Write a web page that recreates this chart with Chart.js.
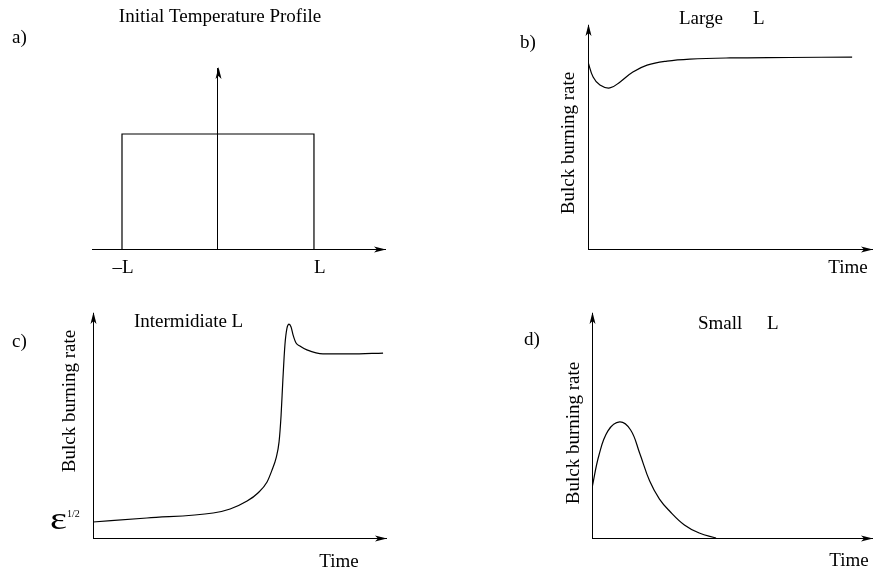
<!DOCTYPE html>
<html><head><meta charset="utf-8">
<script src="https://cdn.jsdelivr.net/npm/chart.js@4"></script>
<style>
html,body{margin:0;padding:0;background:#fff;overflow:hidden}
#wrap{position:relative;width:874px;height:571px;background:#fff}
canvas{position:absolute;left:0;top:0}
</style></head><body><div id="wrap">
<canvas id="ca" width="874" height="571"></canvas>
<canvas id="cb" width="874" height="571"></canvas>
<canvas id="cc" width="874" height="571"></canvas>
<canvas id="cd" width="874" height="571"></canvas>
</div>
<script>
// ---- data ----
const profileX = [-1, -1, 1, 1];
const profileY = [0, 1, 1, 0];
const profileTicks = [-1, 1];
const profileTickLabels = ['\u2013L', 'L'];

const largeTime = [0, 0.18, 0.42, 0.77, 1.13, 1.58, 2.08, 2.78, 3.59, 5.0, 7.11, 9.30];
const largeRate = [8.35, 7.68, 7.32, 7.19, 7.46, 7.90, 8.21, 8.39, 8.48, 8.53, 8.55, 8.57];

const interTime = [0, 1.84, 4.10, 4.68, 5.26, 5.63, 5.94, 6.11, 6.25, 6.35, 6.42, 6.48, 6.55, 6.62, 6.69, 6.76, 6.83, 6.93, 7.06, 7.30, 7.85, 8.77, 9.90];
const interRate = [0.71, 0.89, 1.11, 1.29, 1.64, 2.00, 2.49, 3.02, 3.56, 4.27, 5.47, 7.02, 8.58, 9.33, 9.51, 9.38, 9.02, 8.67, 8.53, 8.36, 8.18, 8.18, 8.22];

const smallTime = [0, 0.25, 0.57, 0.99, 1.38, 1.70, 2.06, 2.41, 2.77, 3.30, 3.83, 4.43];
const smallRate = [2.22, 3.69, 4.76, 5.16, 4.80, 3.78, 2.53, 1.73, 1.20, 0.58, 0.22, 0];

const yLabel = 'Bulck burning rate';
const xLabel = 'Time';

// ---- helpers ----
const FONT = '"Liberation Serif", "Times New Roman", serif';
function pts(xs, ys) { return xs.map((x, i) => ({x: x, y: ys[i]})); }

function arrowUp(ctx, x, y) {
  ctx.beginPath(); ctx.moveTo(x, y); ctx.lineTo(x - 3, y + 12); ctx.lineTo(x, y + 9); ctx.lineTo(x + 3, y + 12); ctx.closePath(); ctx.fill();
}
function arrowRight(ctx, x, y) {
  ctx.beginPath(); ctx.moveTo(x, y); ctx.lineTo(x - 12, y - 3); ctx.lineTo(x - 9, y); ctx.lineTo(x - 12, y + 3); ctx.closePath(); ctx.fill();
}
function text(ctx, s, x, y, size, align, rot, sx) {
  ctx.save();
  ctx.font = size + 'px ' + FONT;
  ctx.fillStyle = '#000';
  ctx.textAlign = align || 'center';
  ctx.textBaseline = 'middle';
  ctx.translate(x, y);
  if (rot) ctx.rotate(rot);
  if (sx) ctx.scale(sx, 1);
  ctx.fillText(s, 0, 0);
  ctx.restore();
}

function makePlugin(drawTexts, yAxisAtZero) {
  return {
    id: 'decor',
    afterDraw(chart) {
      const ctx = chart.ctx, a = chart.chartArea;
      const xs = chart.scales.x;
      ctx.save();
      ctx.fillStyle = '#000';
      const yx = yAxisAtZero ? Math.round(xs.getPixelForValue(0)) + 0.5 : a.left + 0.5;
      arrowUp(ctx, yx, a.top - 1);
      arrowRight(ctx, a.right + 1, Math.round(a.bottom) + 0.5);
      ctx.restore();
      drawTexts(chart, ctx);
    }
  };
}

function options(pad, xmin, xmax, ymin, ymax, yPos) {
  const ax = {grid: {display: false, drawTicks: false}, ticks: {display: false}, border: {display: true, color: '#000', width: 1}};
  return {
    responsive: false, animation: false, events: [], devicePixelRatio: 1,
    layout: {padding: pad},
    plugins: {legend: {display: false}, tooltip: {enabled: false}, title: {display: false}},
    elements: {point: {radius: 0}},
    scales: {
      x: Object.assign({type: 'linear', min: xmin, max: xmax, position: 'bottom'}, JSON.parse(JSON.stringify(ax))),
      y: Object.assign({type: 'linear', min: ymin, max: ymax, position: yPos || 'left'}, JSON.parse(JSON.stringify(ax)))
    }
  };
}

function lineDs(data, mode) {
  const ds = {data: data, borderColor: '#000', borderWidth: 1.2, fill: false, pointRadius: 0, tension: 0};
  if (mode === 'monotone') { ds.tension = 0.4; ds.cubicInterpolationMode = 'monotone'; }
  else if (mode === 'smooth') { ds.tension = 0.4; }
  return ds;
}

// ---- a) Initial temperature profile ----
new Chart(document.getElementById('ca'), {
  type: 'line',
  data: {datasets: [lineDs(pts(profileX, profileY))]},
  options: options({left: 92, top: 68, right: 489, bottom: 322}, -1.3125, 1.74, 0, 1.574, {x: 0}),
  plugins: [makePlugin(function (chart, ctx) {
    const xs = chart.scales.x, b = chart.chartArea.bottom;
    text(ctx, 'Initial Temperature Profile', 220, 17, 19);
    text(ctx, 'a)', 12, 38, 19, 'left');
    text(ctx, profileTickLabels[0], xs.getPixelForValue(profileTicks[0]) + 1, b + 19, 19, 'center');
    text(ctx, profileTickLabels[1], xs.getPixelForValue(profileTicks[1]), b + 19, 19, 'left');
  }, true)]
});

// ---- b) Large L ----
new Chart(document.getElementById('cb'), {
  type: 'line',
  data: {datasets: [lineDs(pts(largeTime, largeRate), 'smooth')]},
  options: options({left: 588, top: 25, right: 2, bottom: 322}, 0, 10, 0, 10),
  plugins: [makePlugin(function (chart, ctx) {
    text(ctx, 'Large', 679, 19, 19, 'left');
    text(ctx, 'L', 753, 19, 19, 'left');
    text(ctx, 'b)', 520, 43, 19, 'left');
    text(ctx, yLabel, 569, 143, 19, 'center', -Math.PI / 2);
    text(ctx, xLabel, 848, 268, 19, 'center');
  })]
});

// ---- c) Intermediate L ----
new Chart(document.getElementById('cc'), {
  type: 'line',
  data: {datasets: [lineDs(pts(interTime, interRate), 'monotone')]},
  options: options({left: 93, top: 313, right: 488, bottom: 33}, 0, 10, 0, 10),
  plugins: [makePlugin(function (chart, ctx) {
    text(ctx, 'Intermidiate L', 134, 322, 19, 'left');
    text(ctx, 'c)', 12, 342, 19, 'left');
    text(ctx, yLabel, 70, 401, 19, 'center', -Math.PI / 2);
    text(ctx, '\u03B5', 50, 521, 31, 'left', 0, 1.3);
    text(ctx, '1/2', 67, 514, 10, 'left');
    text(ctx, xLabel, 339, 562, 19, 'center');
  })]
});

// ---- d) Small L ----
new Chart(document.getElementById('cd'), {
  type: 'line',
  data: {datasets: [lineDs(pts(smallTime, smallRate), 'smooth')]},
  options: options({left: 592, top: 313, right: 2, bottom: 33}, 0, 10, 0, 10),
  plugins: [makePlugin(function (chart, ctx) {
    text(ctx, 'Small', 698, 324, 19, 'left');
    text(ctx, 'L', 767, 324, 19, 'left');
    text(ctx, 'd)', 524, 340, 19, 'left');
    text(ctx, yLabel, 574, 433, 19, 'center', -Math.PI / 2);
    text(ctx, xLabel, 849, 561, 19, 'center');
  })]
});
</script>
</body></html>
